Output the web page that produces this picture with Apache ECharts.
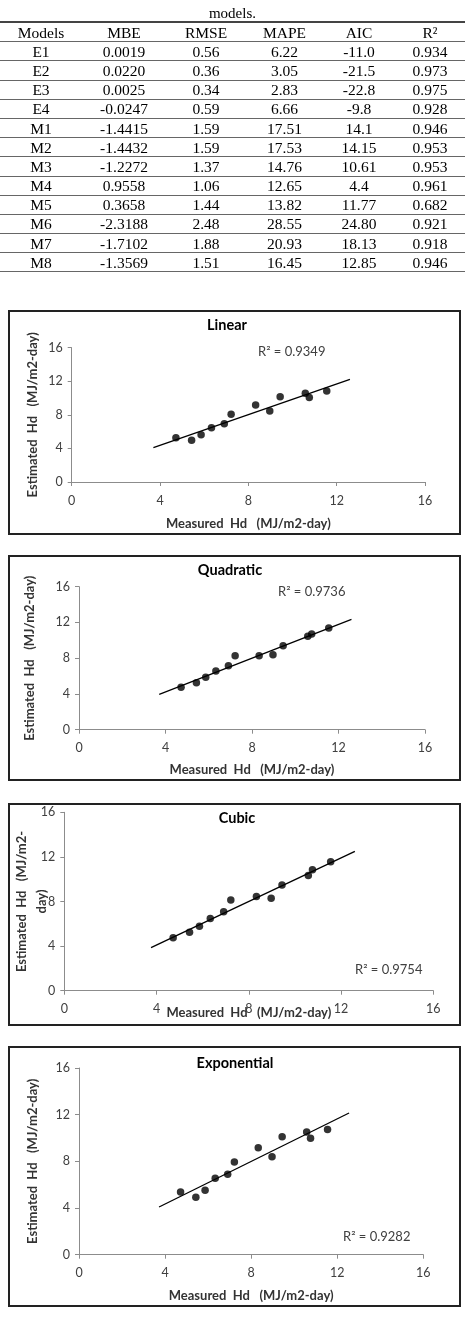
<!DOCTYPE html>
<html>
<head>
<meta charset="utf-8">
<script src="https://cdn.jsdelivr.net/npm/echarts@6/dist/echarts.min.js"></script>
<style>
html, body { margin: 0; padding: 0; background: #fff; }
#wrap { position: relative; width: 465px; height: 1317px; overflow: hidden; }
#chart { position: absolute; left: 0; top: 0; width: 465px; height: 1317px; }
#caption { position: absolute; left: 0; top: 5px; width: 465px; text-align: center; font: 15px 'Liberation Serif', serif; line-height: 17px; }
#tbl { position: absolute; left: 0; top: 21px; width: 465px; border-collapse: collapse; table-layout: fixed; font: 15.5px 'Liberation Serif', serif; color: #000; }
#tbl td { text-align: center; padding: 0; height: 18.2px; line-height: 17px; border-bottom: 1.5px solid #666; }
#tbl tr:first-child td { border-top: 2px solid #444; }
</style>
</head>
<body>
<div id="wrap">
  <div id="chart"></div>
  <div id="caption">models.</div>
  <table id="tbl">
    <colgroup><col style="width:82px"><col style="width:84px"><col style="width:80px"><col style="width:77px"><col style="width:72px"><col style="width:70px"></colgroup>
    <tbody id="tbody"></tbody>
  </table>
</div>
<script>
// table values
const headers = ['Models', 'MBE', 'RMSE', 'MAPE', 'AIC', 'R²']
const models = ['E1', 'E2', 'E3', 'E4', 'M1', 'M2', 'M3', 'M4', 'M5', 'M6', 'M7', 'M8']
const mbe = ['0.0019', '0.0220', '0.0025', '-0.0247', '-1.4415', '-1.4432', '-1.2272', '0.9558', '0.3658', '-2.3188', '-1.7102', '-1.3569']
const rmse = ['0.56', '0.36', '0.34', '0.59', '1.59', '1.59', '1.37', '1.06', '1.44', '2.48', '1.88', '1.51']
const mape = ['6.22', '3.05', '2.83', '6.66', '17.51', '17.53', '14.76', '12.65', '13.82', '28.55', '20.93', '16.45']
const aic = ['-11.0', '-21.5', '-22.8', '-9.8', '14.1', '14.15', '10.61', '4.4', '11.77', '24.80', '18.13', '12.85']
const r2 = ['0.934', '0.973', '0.975', '0.928', '0.946', '0.953', '0.953', '0.961', '0.682', '0.921', '0.918', '0.946']

// chart values
const panelTitles = ['Linear', 'Quadratic', 'Cubic', 'Exponential']
const panelR2 = ['R² = 0.9349', 'R² = 0.9736', 'R² = 0.9754', 'R² = 0.9282']
const measuredHd = [4.72, 5.43, 5.86, 6.33, 6.91, 7.22, 8.33, 8.97, 9.44, 10.58, 10.76, 11.55]
const linearEst = [5.28, 4.96, 5.63, 6.47, 6.94, 8.06, 9.17, 8.45, 10.16, 10.56, 10.08, 10.83]
const quadraticEst = [4.74, 5.26, 5.86, 6.57, 7.16, 8.28, 8.28, 8.40, 9.40, 10.45, 10.71, 11.38]
const cubicEst = [4.76, 5.24, 5.78, 6.47, 7.07, 8.14, 8.44, 8.29, 9.49, 10.33, 10.84, 11.56]
const exponentialEst = [5.37, 4.92, 5.52, 6.55, 6.89, 7.94, 9.17, 8.40, 10.11, 10.51, 9.97, 10.74]
const linearTrend = [[3.70, 4.09], [12.60, 12.22]]
const quadraticTrend = [[3.71, 3.96], [12.60, 12.35]]
const cubicTrend = [[3.76, 3.86], [12.60, 12.49]]
const exponentialTrend = [[3.72, 4.09], [12.55, 12.14]]
const xName = 'Measured  Hd   (MJ/m2-day)'
const yNames = ['Estimated  Hd   (MJ/m2-day)', 'Estimated  Hd   (MJ/m2-day)', 'Estimated  Hd   (MJ/m2-\nday)', 'Estimated  Hd   (MJ/m2-day)']

const estimates = [linearEst, quadraticEst, cubicEst, exponentialEst]
const trends = [linearTrend, quadraticTrend, cubicTrend, exponentialTrend]

// build table
const tbody = document.getElementById('tbody')
const rows = [headers].concat(models.map((m, i) => [m, mbe[i], rmse[i], mape[i], aic[i], r2[i]]))
rows.forEach(r => {
  const tr = document.createElement('tr')
  r.forEach(v => {
    const td = document.createElement('td')
    td.textContent = v
    tr.appendChild(td)
  })
  tbody.appendChild(tr)
})

// panel layout (page pixels)
const layouts = [
  { box: [9, 311, 451, 223], grid: [71.7, 347.7, 353.3, 134.3], title: [227, 325], r2: [258, 352], yGap: 31, xGap: 34.5, yLh: 15 },
  { box: [9, 556, 451, 224], grid: [79, 586.7, 346, 143], title: [230, 570], r2: [278, 592], yGap: 41.5, xGap: 33, yLh: 15 },
  { box: [9, 804, 451, 221], grid: [64.3, 812.3, 369, 178.4], title: [237, 818], r2: [355, 970], yGap: 12, xGap: 15, yLh: 20 },
  { box: [9, 1047, 451, 259], grid: [79, 1068, 344.3, 186.7], title: [235, 1063], r2: [343, 1237], yGap: 39, xGap: 33.5, yLh: 15 }
]

const fontFam = 'Lato, "Open Sans", sans-serif'
const axisGray = '#8c8c8c'
const labelColor = '#404040'

const grid = []
const xAxis = []
const yAxis = []
const series = []
const graphic = []

layouts.forEach((l, i) => {
  grid.push({ left: l.grid[0], top: l.grid[1], width: l.grid[2], height: l.grid[3] })
  const common = {
    gridIndex: i,
    type: 'value',
    min: 0,
    max: 16,
    interval: 4,
    nameLocation: 'middle',
    nameMoveOverlap: false,
    axisLine: { show: true, lineStyle: { color: axisGray, width: 1 } },
    axisTick: { show: true, length: 4, lineStyle: { color: axisGray } },
    axisLabel: { color: labelColor, fontFamily: fontFam, fontSize: 12.5, margin: 9 },
    splitLine: { show: false }
  }
  const nameStyle = { fontFamily: fontFam, fontWeight: 'bold', fontSize: 13, color: '#333', lineHeight: 15 }
  xAxis.push(Object.assign({}, common, {
    name: xName,
    nameGap: l.xGap,
    nameTextStyle: nameStyle,
    axisLabel: Object.assign({}, common.axisLabel, { margin: 12 })
  }))
  yAxis.push(Object.assign({}, common, {
    name: yNames[i],
    nameGap: l.yGap,
    nameTextStyle: Object.assign({}, nameStyle, { lineHeight: l.yLh })
  }))

  series.push({
    type: 'scatter',
    xAxisIndex: i,
    yAxisIndex: i,
    data: measuredHd.map((x, k) => [x, estimates[i][k]]),
    symbolSize: 7.5,
    itemStyle: { color: '#000' },
    z: 3
  })
  series.push({
    type: 'line',
    xAxisIndex: i,
    yAxisIndex: i,
    data: trends[i],
    symbol: 'none',
    lineStyle: { color: '#000', width: 1.3 },
    z: 2
  })

  graphic.push({
    type: 'rect',
    shape: { x: l.box[0], y: l.box[1], width: l.box[2], height: l.box[3] },
    style: { fill: 'none', stroke: '#222', lineWidth: 2 }
  })
  graphic.push({
    type: 'text',
    x: l.title[0],
    y: l.title[1],
    style: { text: panelTitles[i], fill: '#000', font: 'bold 14.5px ' + fontFam, align: 'center', verticalAlign: 'middle' }
  })
  graphic.push({
    type: 'text',
    x: l.r2[0],
    y: l.r2[1],
    style: { text: panelR2[i], fill: labelColor, font: '13px ' + fontFam, align: 'left', verticalAlign: 'middle' }
  })
})

const option = {
  animation: false,
  grid: grid,
  xAxis: xAxis,
  yAxis: yAxis,
  series: series,
  graphic: graphic
}

const chart = echarts.init(document.getElementById('chart'))
chart.setOption(option)
</script>
</body>
</html>
